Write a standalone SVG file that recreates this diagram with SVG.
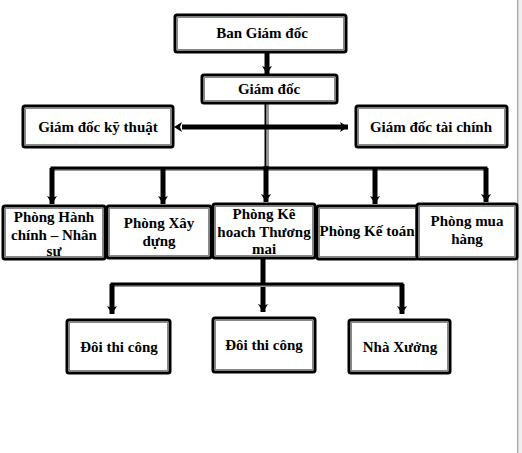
<svg xmlns="http://www.w3.org/2000/svg" width="522" height="453" viewBox="0 0 522 453">
<defs>
<style>
.box{fill:#fff;stroke:#000;stroke-width:3}
.inner{fill:none;stroke:#888;stroke-width:1}
.t{font-family:"Liberation Serif","Times New Roman",serif;font-weight:bold;font-size:15px;fill:#000;text-anchor:middle}
.thick{stroke:#000;stroke-width:5;fill:none}
.bus{stroke:#000;stroke-width:3;fill:none}
.shadow{stroke:#999;stroke-width:2;fill:none}
.thin{stroke:#000;stroke-width:2;fill:none}
</style>
<marker id="ah" markerUnits="userSpaceOnUse" markerWidth="14" markerHeight="10" refX="8" refY="5" orient="auto">
<path d="M0,0 L8,5 L0,10 L2,5 Z" fill="#000"/>
</marker>
<marker id="ahs" markerUnits="userSpaceOnUse" markerWidth="14" markerHeight="10" refX="0" refY="5" orient="auto-start-reverse">
<path d="M0,0 L8,5 L0,10 L2,5 Z" fill="#000"/>
</marker>
</defs>
<rect x="0" y="0" width="522" height="453" fill="#fff"/>
<rect x="519" y="0" width="3" height="453" fill="#f0f0f0"/>
<rect x="517" y="0" width="1.5" height="453" fill="#aaa"/>

<g id="connectors">
<!-- Ban Giam doc to Giam doc -->
<line class="thick" x1="267" y1="53" x2="267" y2="74" marker-end="url(#ah)"/>
<!-- Giam doc down to bus -->
<line class="shadow" x1="268" y1="104" x2="268" y2="168"/>
<line class="thin" x1="265.5" y1="104" x2="265.5" y2="168"/>
<!-- bidirectional -->
<line class="thick" x1="182" y1="127" x2="348" y2="127" marker-end="url(#ah)" marker-start="url(#ahs)"/>
<!-- bus to row -->
<line class="shadow" x1="52" y1="170" x2="488" y2="170"/>
<polyline class="bus" points="52,190 52,168 486,168 486,190"/>
<line class="thick" x1="52" y1="168" x2="52" y2="204" marker-end="url(#ah)"/>
<line class="thick" x1="163" y1="168" x2="163" y2="204" marker-end="url(#ah)"/>
<line class="thick" x1="266" y1="166" x2="266" y2="202" marker-end="url(#ah)"/>
<line class="thick" x1="375" y1="168" x2="375" y2="204" marker-end="url(#ah)"/>
<line class="thick" x1="486" y1="168" x2="486" y2="202" marker-end="url(#ah)"/>
<!-- lower -->
<line class="thick" x1="263" y1="258" x2="263" y2="312" marker-end="url(#ah)"/>
<line class="shadow" x1="113" y1="286" x2="404" y2="286"/>
<polyline class="bus" points="112,300 112,284 402,284 402,300"/>
<line class="thick" x1="112" y1="284" x2="112" y2="314" marker-end="url(#ah)"/>
<line class="thick" x1="402" y1="284" x2="402" y2="314" marker-end="url(#ah)"/>
</g>

<g id="ban-giam-doc">
<rect class="box" x="175" y="15" width="171" height="37" rx="2"/>
<rect class="inner" x="177.5" y="17.5" width="166" height="32"/>
<text class="t" x="262" y="38">Ban Giám đốc</text>
</g>
<g id="giam-doc">
<rect class="box" x="202" y="75" width="135" height="28" rx="2"/>
<rect class="inner" x="204.5" y="77.5" width="130" height="23"/>
<text class="t" x="269" y="94">Giám đốc</text>
</g>
<g id="gd-ky-thuat">
<rect class="box" x="23" y="106" width="150" height="41" rx="2"/>
<rect class="inner" x="25.5" y="108.5" width="145" height="36"/>
<text class="t" x="98" y="132">Giám đốc kỹ thuật</text>
</g>
<g id="gd-tai-chinh">
<rect class="box" x="356" y="106" width="151" height="41" rx="2"/>
<rect class="inner" x="358.5" y="108.5" width="146" height="36"/>
<text class="t" x="431" y="132">Giám đốc tài chính</text>
</g>
<g id="hanh-chinh">
<rect class="box" x="3" y="206" width="102" height="53" rx="2"/>
<rect class="inner" x="5.5" y="208.5" width="97" height="48"/>
<text class="t" x="54" y="222">Phòng Hành</text>
<text class="t" x="54" y="240">chính – Nhân</text>
<text class="t" x="54" y="256">sư</text>
</g>
<g id="xay-dung">
<rect class="box" x="107" y="206" width="104" height="52" rx="2"/>
<rect class="inner" x="109.5" y="208.5" width="99" height="47"/>
<text class="t" x="159" y="228">Phòng Xây</text>
<text class="t" x="159" y="246">dựng</text>
</g>
<g id="ke-hoach">
<rect class="box" x="213" y="204" width="102" height="54" rx="2"/>
<rect class="inner" x="215.5" y="206.5" width="97" height="49"/>
<text class="t" x="264" y="219">Phòng Kê</text>
<text class="t" x="264" y="237">hoach Thương</text>
<text class="t" x="264" y="254">mai</text>
</g>
<g id="ke-toan">
<rect class="box" x="317" y="206" width="101" height="53" rx="2"/>
<rect class="inner" x="319.5" y="208.5" width="96" height="48"/>
<text class="t" x="367" y="236">Phòng Kế toán</text>
</g>
<g id="mua-hang">
<rect class="box" x="417" y="204" width="100" height="55" rx="2"/>
<rect class="inner" x="419.5" y="206.5" width="95" height="50"/>
<text class="t" x="467" y="226">Phòng mua</text>
<text class="t" x="467" y="244">hàng</text>
</g>
<g id="doi-thi-cong-1">
<rect class="box" x="67" y="320" width="103" height="53" rx="2"/>
<rect class="inner" x="69.5" y="322.5" width="98" height="48"/>
<text class="t" x="119" y="352">Đôi thi công</text>
</g>
<g id="doi-thi-cong-2">
<rect class="box" x="213" y="318" width="102" height="54" rx="2"/>
<rect class="inner" x="215.5" y="320.5" width="97" height="49"/>
<text class="t" x="264" y="350">Đôi thi công</text>
</g>
<g id="nha-xuong">
<rect class="box" x="349" y="320" width="101" height="53" rx="2"/>
<rect class="inner" x="351.5" y="322.5" width="96" height="48"/>
<text class="t" x="400" y="352">Nhà Xưởng</text>
</g>
</svg>
